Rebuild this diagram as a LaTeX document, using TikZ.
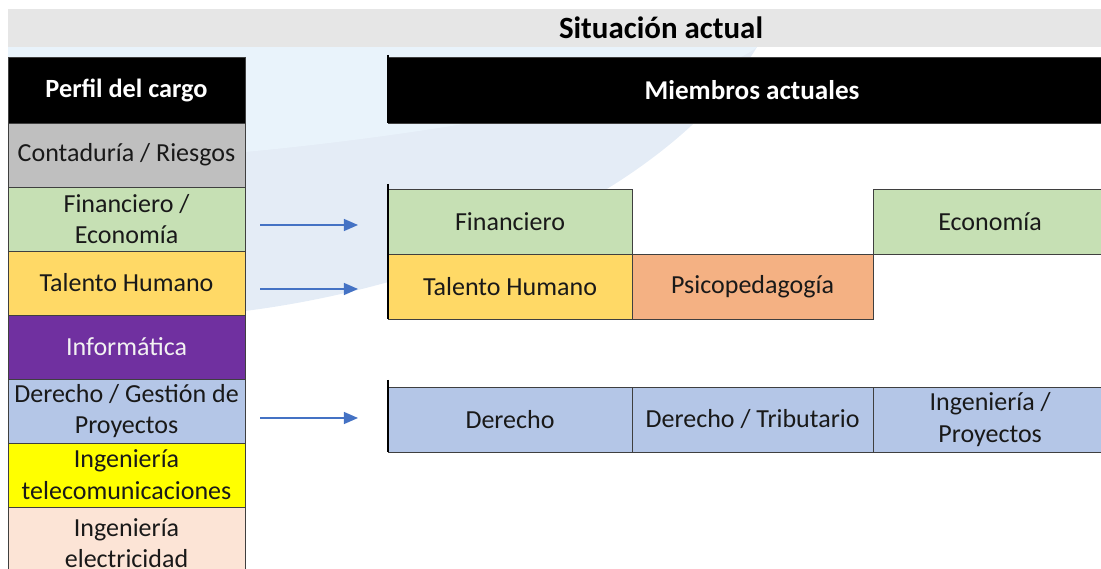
\documentclass[tikz,border=0pt]{standalone}
\usepackage{fontspec}
\setmainfont{Carlito}
\usetikzlibrary{arrows.meta,positioning}
\definecolor{bandgray}{HTML}{E6E6E6}
\definecolor{wmblue}{HTML}{E4ECF6}
\definecolor{wmlight}{HTML}{E9F3FB}
\definecolor{cellline}{HTML}{3F3F3F}
\definecolor{cgray}{HTML}{BFBFBF}
\definecolor{cgreen}{HTML}{C6E0B4}
\definecolor{cgold}{HTML}{FFD966}
\definecolor{cpurple}{HTML}{7030A0}
\definecolor{cblue}{HTML}{B4C6E7}
\definecolor{cyellow}{HTML}{FFFF00}
\definecolor{cpeach}{HTML}{FCE4D6}
\definecolor{corange}{HTML}{F4B183}
\definecolor{arrblue}{HTML}{4472C4}

\begin{document}
\begin{tikzpicture}[x=0.025cm,y=-0.025cm,
  >={Triangle[length=10pt,width=8.5pt]},
  cell/.style={draw=cellline,line width=0.7pt,outer sep=0pt,inner sep=0pt,
    anchor=north west,align=center,text=black!90,
    font=\fontsize{18.5}{22.7}\selectfont},
  head/.style={cell,fill=black,text=white,minimum height=1.65cm,
    font=\fontsize{18.7}{22}\selectfont\bfseries},
  prow/.style={cell,minimum width=5.925cm,minimum height=1.6cm},
  mbox/.style={cell,minimum height=1.625cm},
  arr/.style={->,draw=arrblue,line width=1pt}]
\useasboundingbox (0,0) rectangle (1101,569);
% fondo
\fill[wmblue] (8,47) -- (757,47) .. controls (670,190) and (450,285) .. (245,311) -- (8,330) -- cycle;
\fill[wmlight] (8,47) -- (757,47) .. controls (720,80) and (480,130) .. (245,152) -- (8,156) -- cycle;
\fill[bandgray] (8,9) rectangle (1101,47);
\node[font=\fontsize{22}{25}\selectfont\bfseries] (titulo) at (661,28) {Situación actual};

% perfil del cargo
\node[head,minimum width=5.925cm] (perfil) at (8,57) {Perfil del cargo};
\node[prow,fill=cgray,below=0pt of perfil] (conta) {Contaduría / Riesgos};
\node[prow,fill=cgreen,below=0pt of conta] (finec) {Financiero /\\Economía};
\node[prow,fill=cgold,below=0pt of finec] (talento) {Talento Humano};
\node[prow,fill=cpurple,text=white!95!black,below=0pt of talento] (inform) {Informática};
\node[prow,fill=cblue,below=0pt of inform] (derges) {Derecho / Gestión de\\Proyectos};
\node[prow,fill=cyellow,below=0pt of derges] (ingtel) {Ingeniería\\telecomunicaciones};
\node[prow,fill=cpeach,minimum height=1.8cm,below=0pt of ingtel] (ingelec) {Ingeniería\\electricidad};

% miembros actuales
\node[head,minimum width=18.2cm,font=\fontsize{19.3}{22}\selectfont\bfseries] (miembros) at (388,57) {Miembros actuales};
\node[mbox,fill=cgreen,minimum width=6.1cm] (fin) at (388,189) {Financiero};
\node[mbox,fill=cgreen,minimum width=5.85cm] (eco) at (873,189) {Economía};
\node[mbox,fill=cgold,minimum width=6.1cm,below=0pt of fin] (tal) {Talento Humano};
\node[mbox,fill=corange,minimum width=6.025cm,right=0pt of tal] (psico) {Psicopedagogía};
\node[mbox,fill=cblue,minimum width=6.1cm] (der) at (388,387) {Derecho};
\node[mbox,fill=cblue,minimum width=6.025cm,right=0pt of der] (dertri) {Derecho / Tributario};
\node[mbox,fill=cblue,minimum width=5.85cm,right=0pt of dertri] (ingpro) {Ingeniería /\\Proyectos};
\draw[line width=1.3pt] (miembros.north west) ++(0,-2) -- (miembros.south west);
\draw[line width=1.3pt] (fin.north west) ++(0,-5) -- (tal.south west);
\draw[line width=1.3pt] (der.north west) ++(0,-7) -- (der.south west);

% flechas
\coordinate (a1) at (260,225); \coordinate (b1) at (358,225);
\coordinate (a2) at (260,289); \coordinate (b2) at (358,289);
\coordinate (a3) at (260,418); \coordinate (b3) at (358,418);
\draw[arr] (a1) -- (b1);
\draw[arr] (a2) -- (b2);
\draw[arr] (a3) -- (b3);
\end{tikzpicture}
\end{document}
